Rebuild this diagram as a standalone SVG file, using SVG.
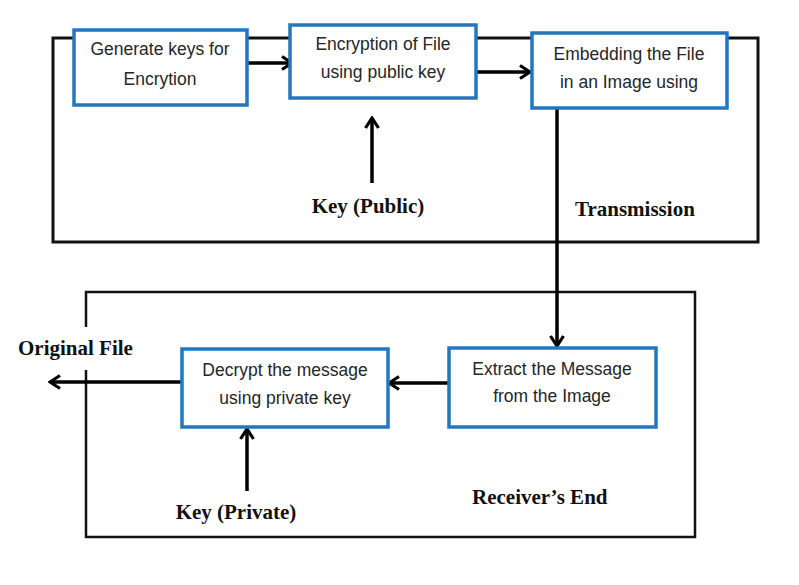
<svg xmlns="http://www.w3.org/2000/svg" width="799" height="585" viewBox="0 0 799 585">
<style>
.frame{fill:none;stroke:#111;stroke-width:3}
.box{fill:#fff;stroke:#2277c0;stroke-width:3.5}
.t{font-family:"Liberation Sans",Arial,sans-serif;font-size:17.5px;fill:#262626;text-anchor:middle}
.b{font-family:"Liberation Serif","Times New Roman",serif;font-size:21px;font-weight:bold;fill:#111}
.c{fill:none;stroke:#000;stroke-width:3.5}
</style>
<defs>
<marker id="ah" viewBox="0 0 16 16" refX="14" refY="8" markerWidth="16" markerHeight="16" markerUnits="userSpaceOnUse" orient="auto">
<path d="M4,1.5 L14,8 L4,14.5" fill="none" stroke="#000" stroke-width="3.2"/>
</marker>
</defs>
<rect width="799" height="585" fill="#fff"/>
<g id="transmission-frame">
<rect class="frame" x="53" y="38" width="705" height="204"/>
<text class="b" x="575" y="216">Transmission</text>
</g>
<g id="receiver-frame">
<path d="M86,327 V292 H695 V537 H86 V370" fill="none" stroke="#111" stroke-width="2.5"/>
<text class="b" x="472" y="504">Receiver’s End</text>
</g>
<g id="connectors">
<line class="c" x1="247" y1="63" x2="292" y2="63" marker-end="url(#ah)"/>
<line class="c" x1="473" y1="72" x2="530" y2="72" marker-end="url(#ah)"/>
<line class="c" x1="372" y1="183" x2="372" y2="118" marker-end="url(#ah)"/>
<line class="c" x1="557" y1="108" x2="557" y2="346" marker-end="url(#ah)"/>
<line class="c" x1="449" y1="383" x2="389" y2="383" marker-end="url(#ah)"/>
<line class="c" x1="182" y1="382" x2="50" y2="382" marker-end="url(#ah)"/>
<line class="c" x1="247" y1="491" x2="247" y2="429" marker-end="url(#ah)"/>
</g>
<g id="generate-keys">
<rect class="box" x="74" y="30" width="173" height="75"/>
<text class="t" x="160" y="55">Generate keys for</text>
<text class="t" x="160" y="85">Encrytion</text>
</g>
<g id="encryption">
<rect class="box" x="290" y="25" width="186" height="73"/>
<text class="t" x="383" y="50">Encryption of File</text>
<text class="t" x="383" y="78">using public key</text>
</g>
<g id="embedding">
<rect class="box" x="532" y="33" width="195" height="75"/>
<text class="t" x="629" y="60">Embedding the File</text>
<text class="t" x="629" y="88">in an Image using</text>
</g>
<g id="extract">
<rect class="box" x="449" y="348" width="207" height="79"/>
<text class="t" x="552" y="375">Extract the Message</text>
<text class="t" x="552" y="402">from the Image</text>
</g>
<g id="decrypt">
<rect class="box" x="182" y="349" width="206" height="78"/>
<text class="t" x="285" y="376">Decrypt the message</text>
<text class="t" x="285" y="404">using private key</text>
</g>
<g id="key-public"><text class="b" x="368" y="213" text-anchor="middle">Key (Public)</text></g>
<g id="key-private"><text class="b" x="236" y="519" text-anchor="middle">Key (Private)</text></g>
<g id="original-file"><text class="b" x="18" y="355">Original File</text></g>
</svg>
